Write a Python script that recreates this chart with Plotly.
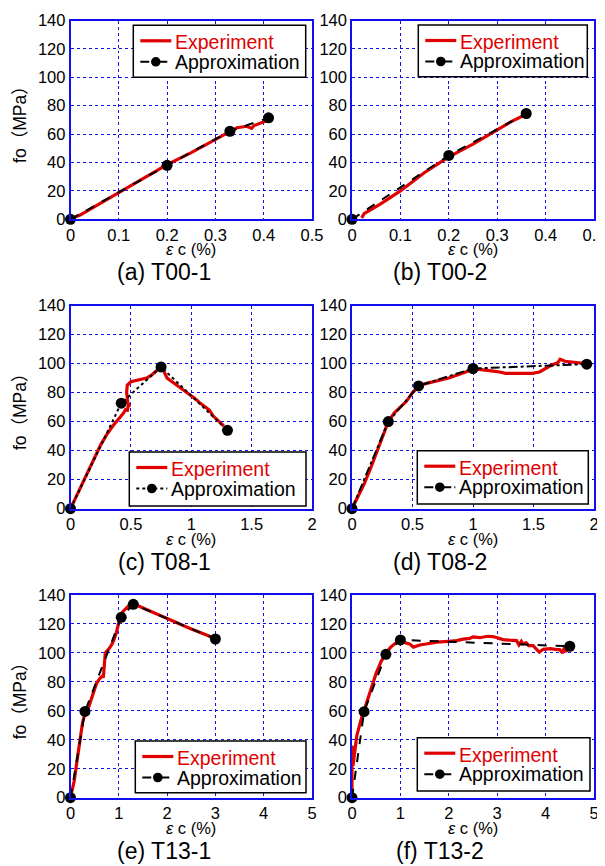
import plotly.graph_objects as go

# ---------------- data ----------------
# (a) T00-1
a_exp_x = [0.005, 0.02, 0.05, 0.08, 0.10, 0.15, 0.20, 0.25, 0.30, 0.33, 0.345, 0.365, 0.375, 0.38, 0.395, 0.41]
a_exp_y = [1, 3, 9, 15, 19, 29, 38.5, 47, 56, 62, 64.5, 65.5, 64, 66, 68, 70]
a_app_x = [0, 0.2, 0.33, 0.41]
a_app_y = [0, 38, 62, 71.5]

# (b) T00-2
b_exp_x = [0.02, 0.025, 0.04, 0.06, 0.10, 0.15, 0.20, 0.25, 0.30, 0.33, 0.36]
b_exp_y = [1, 4, 7, 11, 20, 33, 44, 53, 63, 69, 74]
b_app_x = [0, 0.2, 0.36]
b_app_y = [0, 45, 74.5]

# (c) T08-1
c_exp_x = [0, 0.05, 0.10, 0.15, 0.20, 0.25, 0.30, 0.35, 0.40, 0.44, 0.46, 0.47, 0.48, 0.49, 0.475, 0.465,
           0.47, 0.50, 0.55, 0.60, 0.63, 0.67, 0.70, 0.74, 0.76, 0.78, 0.80, 0.85, 0.90, 0.95, 1.00,
           1.03, 1.07, 1.10, 1.13, 1.15, 1.18, 1.22, 1.25, 1.27]
c_exp_y = [0, 9, 18, 27, 36, 44, 51, 57, 62, 66, 69, 67, 72, 70, 73, 80,
           85, 87.5, 88.5, 89, 90, 92, 94, 97, 97, 93, 90, 87, 84, 81, 78,
           76, 73, 71, 69, 68, 64, 61, 59, 57]
c_app_x = [0, 0.42, 0.75, 1.30]
c_app_y = [0, 72.7, 97.7, 54]

# (d) T08-2
d_exp_x = [0, 0.05, 0.10, 0.15, 0.20, 0.25, 0.30, 0.35, 0.40, 0.45, 0.50, 0.55, 0.60, 0.70, 0.80, 0.90,
           1.00, 1.05, 1.13, 1.20, 1.27, 1.40, 1.49, 1.55, 1.60, 1.65, 1.70, 1.72, 1.76, 1.84, 1.93]
d_exp_y = [0, 8, 17, 27, 38, 50, 60, 66, 70, 74, 80, 84, 86, 88, 90, 93,
           96, 96, 95.4, 94.5, 93.3, 93.2, 93.3, 94.2, 96.6, 99, 100.5, 103, 101.6, 101, 100]
d_app_x = [0, 0.30, 0.55, 1.00, 1.94]
d_app_y = [0, 60, 84.6, 96.6, 99.6]

# (e) T13-1
e_exp_x = [0, 0.03, 0.08, 0.12, 0.20, 0.25, 0.30, 0.35, 0.38, 0.45, 0.54, 0.60, 0.66, 0.68, 0.70, 0.72,
           0.80, 0.85, 0.90, 0.95, 1.00, 1.05, 1.10, 1.16, 1.22, 1.30, 1.60, 2.00, 2.50, 3.00]
e_exp_y = [0, 4, 12, 22, 41, 52, 58, 60, 63, 70, 79, 82, 84, 83, 92, 100,
           103, 105.5, 109, 114, 121, 127, 129, 131, 133, 134, 129.5, 123.5, 116.5, 110]
e_app_x = [0, 0.30, 1.05, 1.30, 3.00]
e_app_y = [0, 59.6, 124.6, 133.6, 109.6]

# (f) T13-2
f_exp_x = [0, 0, 0.02, 0.06, 0.10, 0.18, 0.25, 0.30, 0.40, 0.50, 0.60, 0.70, 0.80, 0.90, 1.00, 1.10,
           1.20, 1.27, 1.35, 1.40, 1.50, 1.75, 2.00, 2.16, 2.30, 2.43, 2.50, 2.64, 2.80, 2.91, 3.00,
           3.12, 3.25, 3.40, 3.45, 3.50, 3.53, 3.60, 3.65, 3.74, 3.80, 3.87, 3.95, 4.01, 4.10, 4.20,
           4.29, 4.35, 4.38, 4.42, 4.45]
f_exp_y = [0, 36, 22, 35, 43, 53, 60, 66, 76, 86, 94, 100, 104, 107, 109.5, 107,
           106, 104, 105, 105.5, 106, 107.4, 108, 108.5, 109.5, 110, 111, 110.5, 111.5, 111.3, 110.5,
           109.2, 108.8, 108.5, 105.5, 108, 106.3, 107, 105, 105, 103, 100.5, 102.5, 102.8, 103, 102.5,
           102.3, 100, 103, 101.6, 100.5]
f_app_x = [0, 0.25, 0.70, 1.00, 4.50]
f_app_y = [0, 59.4, 99, 109, 104.6]

captions = ["(a) T00-1", "(b) T00-2", "(c) T08-1", "(d) T08-2", "(e) T13-1", "(f) T13-2"]
legend_names = ["Experiment", "Approximation"]
x_title = "<i>ε</i> c (%)"
y_title = "fo（MPa）"
x_ticks_small = [0, 0.1, 0.2, 0.3, 0.4, 0.5]
x_ticks_mid = [0, 0.5, 1, 1.5, 2]
x_ticks_large = [0, 1, 2, 3, 4, 5]
x_ticks = [x_ticks_small, x_ticks_small, x_ticks_mid, x_ticks_mid, x_ticks_large, x_ticks_large]
y_ticks = [0, 20, 40, 60, 80, 100, 120, 140]
app_dash = ["dash", "dash", "dot", "dashdot", "dash", "dash"]

series = [
    (a_exp_x, a_exp_y, a_app_x, a_app_y),
    (b_exp_x, b_exp_y, b_app_x, b_app_y),
    (c_exp_x, c_exp_y, c_app_x, c_app_y),
    (d_exp_x, d_exp_y, d_app_x, d_app_y),
    (e_exp_x, e_exp_y, e_app_x, e_app_y),
    (f_exp_x, f_exp_y, f_app_x, f_app_y),
]

# ---------------- layout geometry (window pixels) ----------------
OFF = 8                     # page body margin
W, H = 605 - OFF, 866 - OFF  # figure size so it fits the window


def PX(x):
    return (x - OFF) / W


def PY(y):
    return 1 - (y - OFF) / H


cols_px = [(70.5, 312.0), (352.0, 594.0)]
rows_px = [(20.5, 219.3), (305.5, 508.7), (595.0, 797.7)]
# legend boxes (left, top, right, bottom) in window pixels
legend_box = [
    (133.3, 25.3, 305.7, 77.3),
    (418.3, 25.0, 587.3, 76.7),
    (129.3, 452.0, 306.0, 506.0),
    (417.3, 450.7, 588.3, 504.0),
    (135.3, 741.0, 306.0, 792.7),
    (417.3, 737.7, 590.0, 791.0),
]

FONT = "Liberation Sans, Arial, Noto Sans CJK JP, sans-serif"
RED = "#e00000"
BLUE = "#1010ee"

fig = go.Figure()
layout = dict(
    width=W, height=H,
    margin=dict(l=0, r=0, t=0, b=0, autoexpand=False),
    paper_bgcolor="white", plot_bgcolor="white",
    font=dict(family=FONT, size=16.5, color="black"),
    showlegend=False,
    annotations=[], shapes=[],
)

for i, (ex, ey, ax_, ay_) in enumerate(series):
    r, c = divmod(i, 2)
    x0, x1 = cols_px[c]
    y0, y1 = rows_px[r]
    n = "" if i == 0 else str(i + 1)
    xa, ya = "x" + n, "y" + n

    common = dict(
        showline=True, linecolor=BLUE, linewidth=1.5, mirror=True, automargin=False,
        showgrid=True, gridcolor=BLUE, griddash="dot", gridwidth=1,
        zeroline=False, ticks="", tickfont=dict(size=16.5, family=FONT),
        ticklabeloverflow="allow", tickmode="array",
    )
    xt = x_ticks[i]
    layout["xaxis" + n] = dict(domain=[PX(x0), PX(x1)], anchor=ya, range=[0, xt[-1]],
                               tickvals=xt, ticktext=["%g" % v for v in xt], **common)
    layout["yaxis" + n] = dict(domain=[PY(y1), PY(y0)], anchor=xa, range=[0, y_ticks[-1]],
                               tickvals=y_ticks, ticktext=["%g" % v for v in y_ticks], **common)

    fig.add_trace(go.Scatter(
        x=ex, y=ey, mode="lines", xaxis=xa, yaxis=ya, name=legend_names[0],
        line=dict(color=RED, width=3.2), cliponaxis=False,
    ))
    fig.add_trace(go.Scatter(
        x=ax_, y=ay_, mode="lines+markers", xaxis=xa, yaxis=ya, name=legend_names[1],
        line=dict(color="black", width=2, dash=app_dash[i]),
        marker=dict(color="black", size=11), cliponaxis=False,
    ))

    # ---- legend box drawn by hand ----
    L, T, R, B = legend_box[i]
    layout["shapes"].append(dict(type="rect", xref="paper", yref="paper",
                                 x0=PX(L), x1=PX(R), y0=PY(B), y1=PY(T),
                                 fillcolor="white", line=dict(color="black", width=1.5),
                                 layer="above"))
    r1, r2 = T + 15.5, T + 36.5
    layout["shapes"].append(dict(type="line", xref="paper", yref="paper",
                                 x0=PX(L + 7), x1=PX(L + 38), y0=PY(r1), y1=PY(r1),
                                 line=dict(color=RED, width=3.2), layer="above"))
    layout["shapes"].append(dict(type="line", xref="paper", yref="paper",
                                 x0=PX(L + 7), x1=PX(L + 38), y0=PY(r2), y1=PY(r2),
                                 line=dict(color="black", width=2, dash=app_dash[i]),
                                 layer="above"))
    mx = L + 22.5
    layout["shapes"].append(dict(type="circle", xref="paper", yref="paper",
                                 x0=PX(mx - 4.8), x1=PX(mx + 4.8), y0=PY(r2 + 4.8), y1=PY(r2 - 4.8),
                                 fillcolor="black", line=dict(color="black", width=0),
                                 layer="above"))
    layout["annotations"].append(dict(
        x=PX(L + 39.5), y=PY(r1 + 1.5), xref="paper", yref="paper", text=legend_names[0],
        showarrow=False, xanchor="left", yanchor="middle",
        font=dict(size=19.5, family=FONT, color=RED),
    ))
    layout["annotations"].append(dict(
        x=PX(L + 39.5), y=PY(r2), xref="paper", yref="paper", text=legend_names[1],
        showarrow=False, xanchor="left", yanchor="middle",
        font=dict(size=19.5, family=FONT, color="black"),
    ))

    # x-axis title
    layout["annotations"].append(dict(
        x=PX((x0 + x1) / 2), y=PY(y1 + 30), xref="paper", yref="paper",
        text=x_title, showarrow=False, xanchor="center", yanchor="middle",
        font=dict(size=16.5, family=FONT),
    ))
    # caption
    cap_x = x0 + (x1 - x0) / 2 - (27 if c == 0 else 33)
    layout["annotations"].append(dict(
        x=PX(cap_x), y=PY(y1 + 53), xref="paper", yref="paper",
        text=captions[i], showarrow=False, xanchor="center", yanchor="middle",
        font=dict(size=23, family=FONT),
    ))
    # y-axis title (left column only)
    if c == 0:
        layout["annotations"].append(dict(
            x=PX(20), y=PY((y0 + y1) / 2), xref="paper", yref="paper",
            text=y_title, showarrow=False, xanchor="center", yanchor="middle",
            textangle=-90, font=dict(size=17.5, family=FONT),
        ))

fig.update_layout(**layout)
fig.write_html("out.html")
